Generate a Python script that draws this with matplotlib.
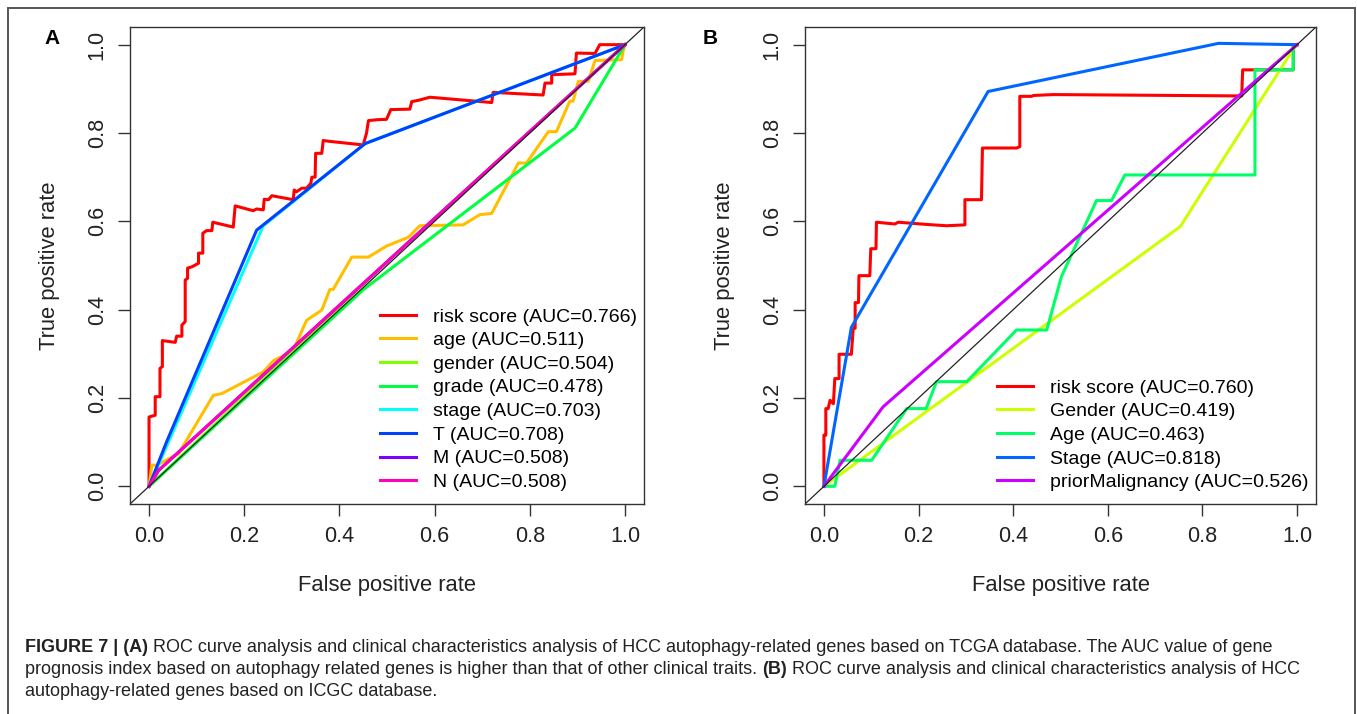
import matplotlib
matplotlib.use('Agg')
import matplotlib.pyplot as plt
from matplotlib.patches import Rectangle

plt.rcParams['font.family'] = ['Liberation Sans', 'DejaVu Sans']

# ---- panel A (TCGA) ----
a_labels = ['risk score (AUC=0.766)', 'age (AUC=0.511)', 'gender (AUC=0.504)',
            'grade (AUC=0.478)', 'stage (AUC=0.703)', 'T (AUC=0.708)',
            'M (AUC=0.508)', 'N (AUC=0.508)']
a_colors = ['#FF0000', '#FFBF00', '#80FF00', '#00FF40', '#00FFFF', '#0040FF', '#8000FF', '#FF00BF']

a_risk_fpr = [0, 0, 0, 0.013, 0.013, 0.023, 0.023, 0.028, 0.028, 0.055, 0.058, 0.069, 0.069,
              0.076, 0.076, 0.081, 0.081, 0.090, 0.097, 0.104, 0.104, 0.113, 0.113, 0.121, 0.132,
              0.134, 0.177, 0.181, 0.219, 0.226, 0.240, 0.242, 0.251, 0.258, 0.303, 0.305, 0.310,
              0.321, 0.331, 0.340, 0.342, 0.349, 0.350, 0.363, 0.366, 0.380, 0.450, 0.457, 0.461,
              0.478, 0.499, 0.508, 0.548, 0.552, 0.566, 0.590, 0.720, 0.723, 0.828, 0.832, 0.846,
              0.846, 0.895, 0.898, 0.937, 0.947, 1.0]
a_risk_tpr = [0, 0.048, 0.157, 0.161, 0.203, 0.203, 0.267, 0.271, 0.330, 0.326, 0.340, 0.340, 0.365,
              0.373, 0.467, 0.471, 0.494, 0.497, 0.501, 0.505, 0.528, 0.528, 0.573, 0.579, 0.579,
              0.598, 0.587, 0.635, 0.624, 0.628, 0.626, 0.650, 0.649, 0.658, 0.649, 0.671, 0.667,
              0.675, 0.675, 0.686, 0.700, 0.700, 0.754, 0.754, 0.783, 0.781, 0.773, 0.800, 0.828,
              0.830, 0.831, 0.853, 0.854, 0.871, 0.874, 0.881, 0.869, 0.892, 0.886, 0.913, 0.913,
              0.932, 0.934, 0.981, 0.980, 1.0, 1.0]
a_age_fpr = [0, 0.006, 0.016, 0.062, 0.135, 0.153, 0.240, 0.261, 0.303, 0.331, 0.363, 0.380, 0.387,
             0.426, 0.461, 0.499, 0.545, 0.569, 0.660, 0.695, 0.720, 0.776, 0.793, 0.839, 0.856,
             0.884, 0.891, 0.902, 0.923, 0.937, 0.993, 0.996, 1.0]
a_age_tpr = [0, 0.048, 0.048, 0.074, 0.206, 0.210, 0.259, 0.284, 0.308, 0.376, 0.399, 0.446, 0.446,
             0.519, 0.519, 0.544, 0.564, 0.590, 0.592, 0.615, 0.618, 0.732, 0.732, 0.803, 0.803,
             0.872, 0.872, 0.917, 0.917, 0.964, 0.966, 0.985, 1.0]
a_gender_fpr = [0, 0.5, 1.0]
a_gender_tpr = [0, 0.508, 1.0]
a_grade_fpr = [0, 0.45, 0.895, 1.0]
a_grade_tpr = [0, 0.445, 0.811, 1.0]
a_stage_fpr = [0, 0.240, 0.454, 1.0]
a_stage_tpr = [0, 0.590, 0.776, 1.0]
a_t_fpr = [0, 0.037, 0.226, 0.240, 0.454, 1.0]
a_t_tpr = [0, 0.101, 0.580, 0.592, 0.776, 1.0]
a_m_fpr = [0, 0.02, 1.0]
a_m_tpr = [0, 0.036, 1.0]
a_n_fpr = [0, 0.02, 1.0]
a_n_tpr = [0, 0.036, 1.0]

# ---- panel B (ICGC) ----
b_labels = ['risk score (AUC=0.760)', 'Gender (AUC=0.419)', 'Age (AUC=0.463)',
            'Stage (AUC=0.818)', 'priorMalignancy (AUC=0.526)']
b_colors = ['#FF0000', '#CCFF00', '#00FF66', '#0066FF', '#CC00FF']

b_risk_fpr = [0, 0, 0.004, 0.004, 0.009, 0.013, 0.020, 0.023, 0.032, 0.032, 0.058, 0.062, 0.066,
              0.066, 0.073, 0.074, 0.097, 0.099, 0.110, 0.111, 0.150, 0.157, 0.217, 0.259, 0.298,
              0.298, 0.333, 0.335, 0.407, 0.414, 0.414, 0.439, 0.443, 0.485, 0.872, 0.883, 0.885,
              0.992, 0.992, 1.0]
b_risk_tpr = [0, 0.116, 0.116, 0.176, 0.176, 0.195, 0.187, 0.244, 0.244, 0.299, 0.299, 0.358, 0.358,
              0.416, 0.416, 0.477, 0.477, 0.538, 0.538, 0.598, 0.594, 0.598, 0.593, 0.590, 0.592,
              0.649, 0.649, 0.766, 0.766, 0.769, 0.883, 0.883, 0.885, 0.887, 0.884, 0.884, 0.943,
              0.943, 1.0, 1.0]
b_gender_fpr = [0, 0.753, 0.989, 1.0]
b_gender_tpr = [0, 0.588, 0.985, 1.0]
b_age_fpr = [0, 0.023, 0.034, 0.101, 0.175, 0.216, 0.238, 0.302, 0.407, 0.471, 0.502, 0.576, 0.608,
             0.636, 0.911, 0.911, 0.992, 0.992, 1.0]
b_age_tpr = [0, 0, 0.059, 0.059, 0.176, 0.176, 0.237, 0.237, 0.354, 0.354, 0.475, 0.647, 0.647,
             0.705, 0.705, 0.943, 0.943, 1.0, 1.0]
b_stage_fpr = [0, 0.058, 0.347, 0.834, 1.0]
b_stage_tpr = [0, 0.360, 0.894, 1.003, 1.0]
b_prior_fpr = [0, 0.125, 1.0]
b_prior_tpr = [0, 0.180, 1.0]

caption_lines = [
    [('FIGURE 7 | (A)', True),
     (' ROC curve analysis and clinical characteristics analysis of HCC autophagy-related genes '
      'based on TCGA database. The AUC value of gene', False)],
    [('prognosis index based on autophagy related genes is higher than that of other clinical traits. ', False),
     ('(B)', True),
     (' ROC curve analysis and clinical characteristics analysis of HCC', False)],
    [('autophagy-related genes based on ICGC database.', False)],
]

W, H = 1357, 714
fig = plt.figure(figsize=(W / 100, H / 100), dpi=100)

# outer frame (open at the bottom)
fig.add_artist(Rectangle((8 / W, -0.05), (1355 - 8) / W, 1.05 - 8 / H,
                         transform=fig.transFigure, fill=False, ec='#555555', lw=1.4))


def roc_panel(rect, curves, colors, labels, leg_anchor, letter, letter_x):
    ax = fig.add_axes(rect)
    lines = []
    for (fx, ty), c in zip(curves, colors):
        ln, = ax.plot(fx, ty, color=c, lw=2.2, solid_joinstyle='round')
        lines.append(ln)
    ax.plot([-0.1, 1.1], [-0.1, 1.1], color='#222222', lw=0.9)
    ax.set_xlim(-0.04, 1.04)
    ax.set_ylim(-0.04, 1.04)
    ticks = [0, 0.2, 0.4, 0.6, 0.8, 1.0]
    ax.set_xticks(ticks)
    ax.set_yticks(ticks)
    ax.set_xticklabels(['%.1f' % t for t in ticks])
    ax.set_yticklabels(['%.1f' % t for t in ticks])
    ax.tick_params(direction='out', length=8.6, width=1, pad=7.5, labelsize=15.6,
                   color='#333333', labelcolor='#222222')
    plt.setp(ax.get_yticklabels(), rotation=90, va='center')
    for s in ax.spines.values():
        s.set_color('#333333')
        s.set_linewidth(1)
    ax.set_xlabel('False positive rate', fontsize=15.8, color='#222222')
    ax.set_ylabel('True positive rate', fontsize=15.8, color='#222222')
    ax.xaxis.set_label_coords(0.5, -0.17)
    ax.xaxis.label.set_va('center')
    ax.yaxis.set_label_coords(-0.157, 0.5)
    ax.yaxis.label.set_va('center')
    ax.legend(lines, labels, loc='upper left', bbox_to_anchor=leg_anchor, frameon=False,
              borderpad=0, borderaxespad=0, handlelength=1.86, handletextpad=0.88,
              labelspacing=0.31, fontsize=14)
    fig.text(letter_x / W, 1 - 38 / H, letter, fontsize=15, fontweight='bold',
             ha='center', va='center')
    return ax


roc_panel([130 / W, 210 / H, 514 / W, 477 / H],
          [(a_risk_fpr, a_risk_tpr), (a_age_fpr, a_age_tpr), (a_gender_fpr, a_gender_tpr),
           (a_grade_fpr, a_grade_tpr), (a_stage_fpr, a_stage_tpr), (a_t_fpr, a_t_tpr),
           (a_m_fpr, a_m_tpr), (a_n_fpr, a_n_tpr)],
          a_colors, a_labels, (0.486, 0.411), 'A', 52)

roc_panel([805 / W, 210 / H, 511 / W, 477 / H],
          [(b_risk_fpr, b_risk_tpr), (b_gender_fpr, b_gender_tpr), (b_age_fpr, b_age_tpr),
           (b_stage_fpr, b_stage_tpr), (b_prior_fpr, b_prior_tpr)],
          b_colors, b_labels, (0.376, 0.262), 'B', 710)

# caption with bold pieces
renderer = fig.canvas.get_renderer()
cap_size = 13.0
line_y = [648, 670, 692]
for parts, ypx in zip(caption_lines, line_y):
    x = 25
    for txt, bold in parts:
        t = fig.text(x / W, 1 - ypx / H, txt, fontsize=cap_size, color='#222222',
                     fontweight='bold' if bold else 'normal', ha='left', va='center')
        # measure with a sentinel so trailing spaces count
        probe = fig.text(0, 0, txt + '|', fontsize=cap_size,
                         fontweight='bold' if bold else 'normal')
        bar = fig.text(0, 0, '|', fontsize=cap_size, fontweight='bold' if bold else 'normal')
        w = probe.get_window_extent(renderer).width - bar.get_window_extent(renderer).width
        probe.remove()
        bar.remove()
        x += w

fig.savefig('out.png', dpi=100)
